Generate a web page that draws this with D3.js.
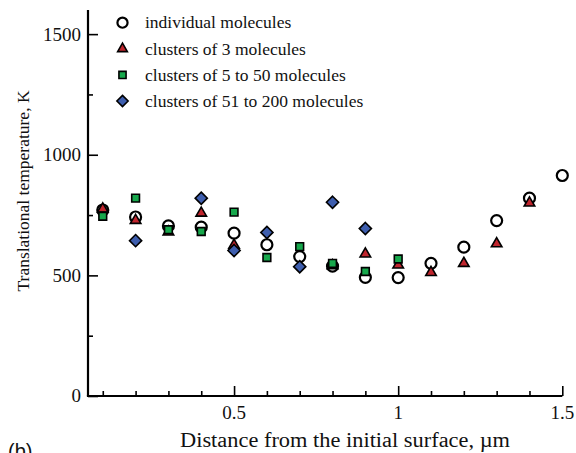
<!DOCTYPE html>
<html>
<head>
<meta charset="utf-8">
<script src="https://cdn.jsdelivr.net/npm/d3@7"></script>
<style>
  html, body { margin: 0; padding: 0; background: #fff; }
  svg { display: block; }
  text { font-family: "Liberation Serif", "Times New Roman", serif; fill: #111; }
</style>
</head>
<body>
<svg id="chart" width="576" height="453"></svg>
<script>
// Distance from the initial surface (µm) for each series
const xIndividual = [0.1, 0.2, 0.3, 0.4, 0.5, 0.6, 0.7, 0.8, 0.9, 1.0, 1.1, 1.2, 1.3, 1.4, 1.5];
const tIndividual = [771, 742, 705, 700, 675, 627, 578, 538, 492, 491, 550, 617, 727, 820, 914];

const xCluster3 = [0.1, 0.2, 0.3, 0.4, 0.5, 0.8, 0.9, 1.0, 1.1, 1.2, 1.3, 1.4];
const tCluster3 = [775, 728, 680, 758, 625, 540, 589, 543, 512, 550, 631, 800];

const xCluster5to50 = [0.1, 0.2, 0.3, 0.4, 0.5, 0.6, 0.7, 0.8, 0.9, 1.0];
const tCluster5to50 = [745, 820, 689, 682, 762, 574, 619, 550, 516, 568];

const xCluster51to200 = [0.2, 0.4, 0.5, 0.6, 0.7, 0.8, 0.9];
const tCluster51to200 = [644, 820, 603, 678, 536, 803, 694];

const seriesNames = [
  "individual molecules",
  "clusters of 3 molecules",
  "clusters of 5 to 50 molecules",
  "clusters of 51 to 200 molecules"
];

const yMajorTicks = [0, 500, 1000, 1500];
const yMinorTicks = [250, 750, 1250];
const xMajorTicks = [0.5, 1, 1.5];
const xMinorTicks = [0.1, 0.2, 0.3, 0.4, 0.6, 0.7, 0.8, 0.9, 1.1, 1.2, 1.3, 1.4];

const svg = d3.select("#chart");
const plotLeft = 88, plotRight = 562.3, plotTop = 10, plotBottom = 396;

const x = d3.scaleLinear().domain([0.055, 1.5]).range([plotLeft, plotRight]);
const y = d3.scaleLinear().domain([0, 1600]).range([plotBottom, plotTop]);

// Square turned 45 degrees (equal width and height)
const diamondSquare = {
  draw(context, size) {
    const h = Math.sqrt(size) / Math.SQRT2;
    context.moveTo(0, -h);
    context.lineTo(h, 0);
    context.lineTo(0, h);
    context.lineTo(-h, 0);
    context.closePath();
  }
};

// Marker styles per series
const styles = [
  { symbol: d3.symbolCircle,   size: 95, fill: "#ffffff", stroke: "#000", sw: 2.2 },
  { symbol: d3.symbolTriangle, size: 48, fill: "#c0252d", stroke: "#000", sw: 1.6 },
  { symbol: d3.symbolSquare,   size: 60, fill: "#17a84c", stroke: "#000", sw: 1.6 },
  { symbol: diamondSquare,     size: 74, fill: "#3e5eae", stroke: "#000", sw: 1.6 }
];

const series = [
  { xs: xIndividual, ts: tIndividual },
  { xs: xCluster3, ts: tCluster3 },
  { xs: xCluster5to50, ts: tCluster5to50 },
  { xs: xCluster51to200, ts: tCluster51to200 }
];

// Axes: left and bottom, ticks pointing into the plot
const yAxisMajor = d3.axisRight(y).tickValues(yMajorTicks).tickSize(10).tickFormat("");
const yAxisMinor = d3.axisRight(y).tickValues(yMinorTicks).tickSize(5).tickFormat("");
const xAxisMajor = d3.axisTop(x).tickValues(xMajorTicks).tickSize(10).tickFormat("");
const xAxisMinor = d3.axisTop(x).tickValues(xMinorTicks).tickSize(5).tickFormat("");

function styleAxis(g) {
  g.select(".domain").remove();
  g.selectAll(".tick line").attr("stroke", "#000").attr("stroke-width", 1.6);
}

svg.append("g").attr("transform", `translate(${plotLeft},0)`).call(yAxisMajor).call(styleAxis);
svg.append("g").attr("transform", `translate(${plotLeft},0)`).call(yAxisMinor).call(styleAxis);
svg.append("g").attr("transform", `translate(0,${plotBottom})`).call(xAxisMajor).call(styleAxis);
svg.append("g").attr("transform", `translate(0,${plotBottom})`).call(xAxisMinor).call(styleAxis);

// Axis lines
svg.append("line").attr("x1", plotLeft).attr("x2", plotLeft).attr("y1", plotTop).attr("y2", plotBottom)
  .attr("stroke", "#000").attr("stroke-width", 2.2);
svg.append("line").attr("x1", plotLeft - 1.1).attr("x2", plotRight).attr("y1", plotBottom).attr("y2", plotBottom)
  .attr("stroke", "#000").attr("stroke-width", 2.2);

// Tick labels
svg.append("g").selectAll("text").data(yMajorTicks).join("text")
  .attr("x", plotLeft - 7).attr("y", d => y(d)).attr("dy", "0.34em")
  .attr("text-anchor", "end").style("font-size", "19px")
  .text(d => d);

svg.append("g").selectAll("text").data(xMajorTicks).join("text")
  .attr("x", d => x(d)).attr("y", 419)
  .attr("text-anchor", "middle").style("font-size", "19px")
  .text(d => d);

// Axis titles
svg.append("text")
  .attr("transform", `translate(29,191) rotate(-90)`)
  .attr("text-anchor", "middle").style("font-size", "17.5px")
  .text("Translational temperature, K");

svg.append("text")
  .attr("x", 345).attr("y", 447)
  .attr("text-anchor", "middle").style("font-size", "20px")
  .attr("textLength", 330).attr("lengthAdjust", "spacingAndGlyphs")
  .text("Distance from the initial surface, \u00b5m");

// Panel letter
svg.append("text")
  .attr("x", 8).attr("y", 458)
  .style("font-family", "'Liberation Sans', Arial, sans-serif").style("font-size", "20px")
  .text("(b)");

// Data markers
series.forEach((s, i) => {
  const st = styles[i];
  const sym = d3.symbol().type(st.symbol).size(st.size);
  svg.append("g").selectAll("path").data(s.xs.map((v, k) => [v, s.ts[k]])).join("path")
    .attr("transform", d => `translate(${x(d[0])},${y(d[1])})`)
    .attr("d", sym)
    .attr("fill", st.fill).attr("stroke", st.stroke).attr("stroke-width", st.sw);
});

// Legend
const legend = svg.append("g");
seriesNames.forEach((name, i) => {
  const st = styles[i];
  const ly = 22.7 + i * 26.1;
  legend.append("path")
    .attr("transform", `translate(122.5,${ly})`)
    .attr("d", d3.symbol().type(st.symbol).size(st.size * 0.85))
    .attr("fill", st.fill).attr("stroke", st.stroke).attr("stroke-width", st.sw);
  legend.append("text")
    .attr("x", 145).attr("y", ly).attr("dy", "0.33em")
    .style("font-size", "17.5px")
    .text(name);
});
</script>
</body>
</html>
